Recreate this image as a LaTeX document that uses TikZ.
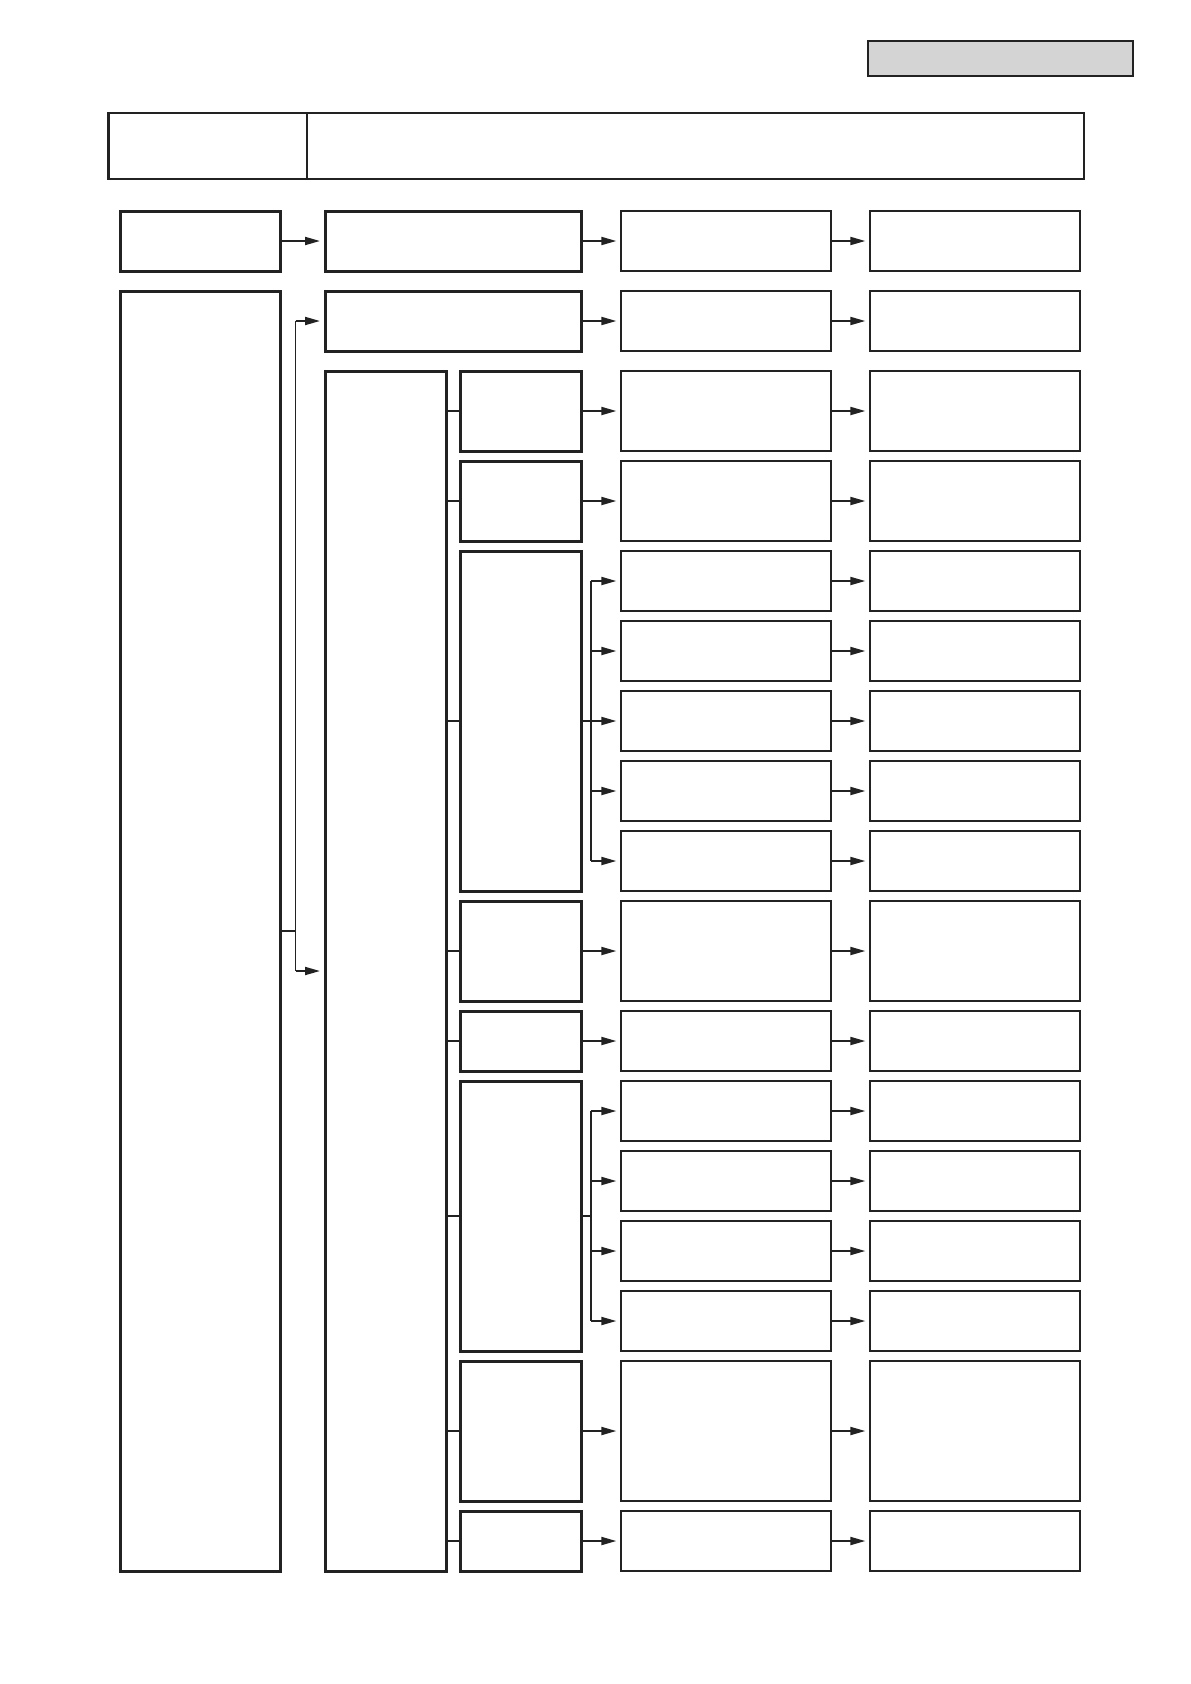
\documentclass[tikz,border=0pt]{standalone}
\usetikzlibrary{arrows.meta}
\definecolor{ink}{HTML}{222222}
\definecolor{panel}{HTML}{D4D4D4}
\newcommand{\mybox}[6]{\node[#1,minimum width={#4-#2},minimum height={#5-#3}] (#6) at ({(#2+#4)/2},{(#3+#5)/2}) {};}
\begin{document}
\begin{tikzpicture}[x=1pt,y=-1pt,
  heavybox/.style={draw=ink,line width=3pt,rectangle,inner sep=0pt,fill=white},
  lightbox/.style={draw=ink,line width=2.3pt,rectangle,inner sep=0pt,fill=white},
  greybox/.style={draw=ink,line width=2.6pt,rectangle,inner sep=0pt,fill=panel},
  conn/.style={draw=ink,line width=1.9pt},
  arr/.style={draw=ink,line width=1.9pt,-{Triangle[length=15pt,width=8pt]},shorten >=3.5pt}]
\useasboundingbox (0,0) rectangle (1191,1684);
% top grey label and header
\mybox{greybox}{868}{41}{1133}{76}{tag}
\mybox{lightbox}{108.5}{113}{1084}{179}{head}
\coordinate (hdtop) at (307,113);
\coordinate (hdbot) at (307,179);
\draw[conn,line width=2.2pt] (hdtop) -- (hdbot);
% row 1
\mybox{heavybox}{120}{211}{280}{271}{A1}
\mybox{heavybox}{325}{211}{581}{271}{B1}
\mybox{lightbox}{621}{211}{831}{271}{C1}
\mybox{lightbox}{870}{211}{1080}{271}{D1}
\draw[arr] (A1.east) -- (B1.west);
\draw[arr] (B1.east) -- (C1.west);
\draw[arr] (C1.east) -- (D1.west);
% row 2 and big left blocks
\mybox{heavybox}{120}{291}{280}{1571}{A2}
\mybox{heavybox}{325}{291}{581}{351}{B2}
\mybox{lightbox}{621}{291}{831}{351}{C2}
\mybox{lightbox}{870}{291}{1080}{351}{D2}
\mybox{heavybox}{325}{371}{446}{1571}{Bn}
\coordinate (abus) at (295.5,931);
\draw[conn,line width=1.7pt] (A2.east) -- (abus);
\draw[conn,line width=1.7pt] (abus |- B2.west) -- (abus |- Bn.west);
\draw[arr] (abus |- B2.west) -- (B2.west);
\draw[arr] (abus |- Bn.west) -- (Bn.west);
\draw[arr] (B2.east) -- (C2.west);
\draw[arr] (C2.east) -- (D2.west);
% small column
\mybox{heavybox}{460}{371}{581}{451}{s1}
\mybox{heavybox}{460}{461}{581}{541}{s2}
\mybox{heavybox}{460}{551}{581}{891}{s3}
\mybox{heavybox}{460}{901}{581}{1001}{s4}
\mybox{heavybox}{460}{1011}{581}{1071}{s5}
\mybox{heavybox}{460}{1081}{581}{1351}{s6}
\mybox{heavybox}{460}{1361}{581}{1501}{s7}
\mybox{heavybox}{460}{1511}{581}{1571}{s8}
\foreach \s in {s1,s2,s3,s4,s5,s6,s7,s8}{
  \draw[conn] (Bn.east |- \s.west) -- (\s.west);
}
% single rows
\mybox{lightbox}{621}{371}{831}{451}{c1}
\mybox{lightbox}{870}{371}{1080}{451}{d1}
\mybox{lightbox}{621}{461}{831}{541}{c2}
\mybox{lightbox}{870}{461}{1080}{541}{d2}
\mybox{lightbox}{621}{901}{831}{1001}{c4}
\mybox{lightbox}{870}{901}{1080}{1001}{d4}
\mybox{lightbox}{621}{1011}{831}{1071}{c5}
\mybox{lightbox}{870}{1011}{1080}{1071}{d5}
\mybox{lightbox}{621}{1361}{831}{1501}{c7}
\mybox{lightbox}{870}{1361}{1080}{1501}{d7}
\mybox{lightbox}{621}{1511}{831}{1571}{c8}
\mybox{lightbox}{870}{1511}{1080}{1571}{d8}
\foreach \k in {1,2,4,5,7,8}{
  \draw[arr] (s\k.east) -- (c\k.west);
  \draw[arr] (c\k.east) -- (d\k.west);
}
% group 3 (five sub boxes)
\foreach \i/\t in {1/551,2/621,3/691,4/761,5/831}{
  \mybox{lightbox}{621}{\t}{831}{\t+60}{c3\i}
  \mybox{lightbox}{870}{\t}{1080}{\t+60}{d3\i}
  \draw[arr] (c3\i.east) -- (d3\i.west);
}
\coordinate (bus3) at (590.7,721);
\draw[conn] (s3.east) -- (bus3);
\draw[conn,line width=1.7pt] (bus3 |- c31.west) -- (bus3 |- c35.west);
\foreach \i in {1,...,5}{
  \draw[arr] (bus3 |- c3\i.west) -- (c3\i.west);
}
% group 6 (four sub boxes)
\foreach \i/\t in {1/1081,2/1151,3/1221,4/1291}{
  \mybox{lightbox}{621}{\t}{831}{\t+60}{c6\i}
  \mybox{lightbox}{870}{\t}{1080}{\t+60}{d6\i}
  \draw[arr] (c6\i.east) -- (d6\i.west);
}
\coordinate (bus6) at (590.7,1216);
\draw[conn] (s6.east) -- (bus6);
\draw[conn,line width=1.7pt] (bus6 |- c61.west) -- (bus6 |- c64.west);
\foreach \i in {1,...,4}{
  \draw[arr] (bus6 |- c6\i.west) -- (c6\i.west);
}
\end{tikzpicture}
\end{document}
